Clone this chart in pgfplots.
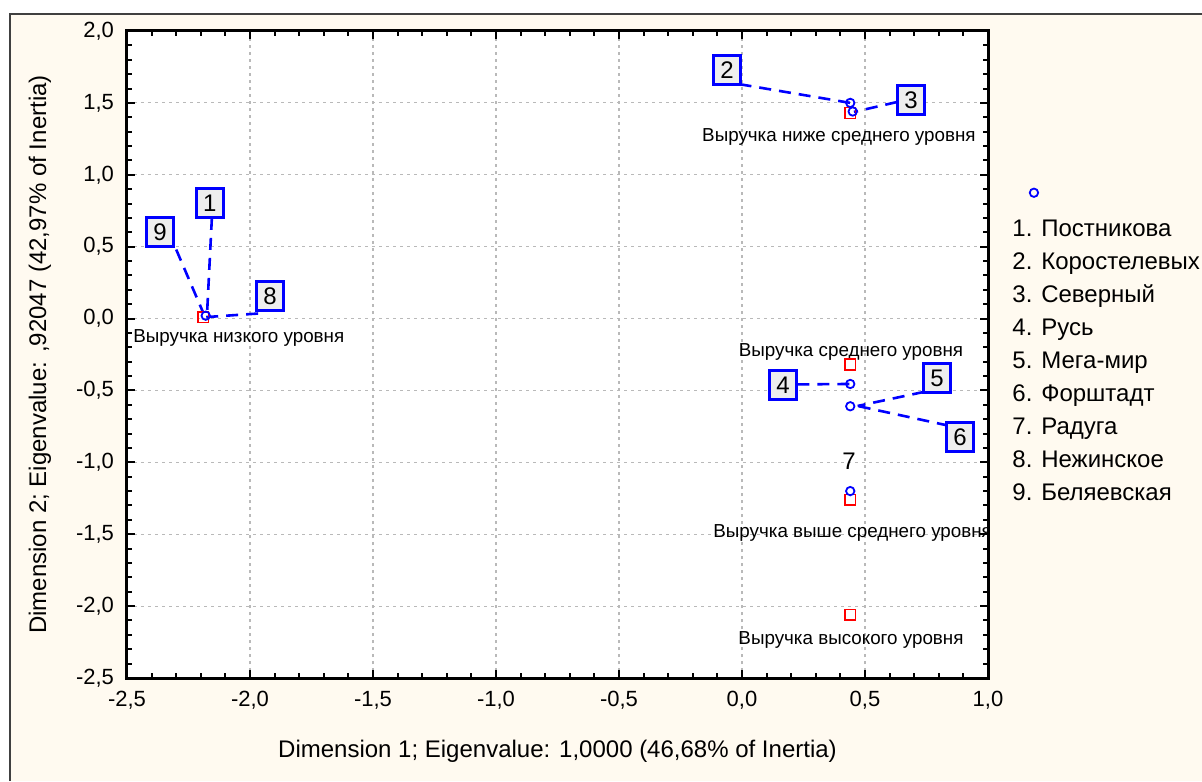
\documentclass[border=0pt]{standalone}
\usepackage{pgfplots}
\pgfplotsset{compat=1.18}
\usepackage{fontspec}
\setmainfont{Liberation Sans}
\definecolor{cream}{RGB}{255,250,240}
\definecolor{gridgray}{RGB}{185,185,185}
\definecolor{boxfill}{RGB}{238,238,238}
\tikzset{
  lk/.style={blue, line width=1.3pt, dash pattern=on 6pt off 4pt},
  bx/.style={draw=blue, fill=boxfill, line width=1.4pt, minimum width=13.5pt, minimum height=14.5pt, inner sep=0pt, font=\fontsize{12}{14}\selectfont},
  lbl/.style={inner sep=0pt, font=\fontsize{9.4}{11}\selectfont},
}
\begin{document}
\begin{tikzpicture}[x=1pt,y=1pt]
\useasboundingbox (0,0) rectangle (601,390.5);
\fill[white] (0,0) rectangle (601,390.5);
\fill[cream] (5,0) rectangle (601,383.5);
\draw[black!75, line width=1pt] (5,0) -- (5,383.5) -- (601,383.5);
\begin{axis}[
  at={(63.5pt,51.5pt)}, anchor=south west,
  scale only axis, width=430.5pt, height=323.5pt,
  xmin=-2.5, xmax=1.0, ymin=-2.5, ymax=2.0,
  axis background/.style={fill=white},
  axis line style={line width=1.5pt},
  xtick={-2.5,-2.0,-1.5,-1.0,-0.5,0,0.5,1.0},
  xticklabels={{-2,5},{-2,0},{-1,5},{-1,0},{-0,5},{0,0},{0,5},{1,0}},
  ytick={-2.5,-2.0,-1.5,-1.0,-0.5,0,0.5,1.0,1.5,2.0},
  yticklabels={{-2,5},{-2,0},{-1,5},{-1,0},{-0,5},{0,0},{0,5},{1,0},{1,5},{2,0}},
  minor tick num=4,
  tick align=inside,
  major tick length=4pt, minor tick length=2.5pt,
  every tick/.style={black, line width=1pt},
  grid=major,
  major grid style={gridgray, line width=0.6pt, dash pattern=on 1.5pt off 2pt},
  ticklabel style={font=\fontsize{11}{13}\selectfont},
  xticklabel style={yshift=-3pt},
  yticklabel style={xshift=-3pt},
  xlabel={Dimension 1; Eigenvalue: 1,0000 (46,68\% of Inertia)},
  ylabel={Dimension 2; Eigenvalue: ,92047 (42,97\% of Inertia)},
  label style={font=\fontsize{12}{14}\selectfont},
  xlabel style={at={(axis description cs:0.5,-0.113)}, anchor=center},
  ylabel style={at={(axis description cs:-0.101,0.5)}, anchor=center},
  legend style={at={(1.058,0.75)}, anchor=center, draw=none, fill=none},
  clip=true,
]
% connector lines (label -> point)
\addplot[lk, forget plot] coordinates {(-2.155,0.70) (-2.175,0.02)};
\addplot[lk, forget plot] coordinates {(-2.30,0.48) (-2.19,0.04)};
\addplot[lk, forget plot] coordinates {(-1.967,0.035) (-2.18,0.01)};
\addplot[lk, forget plot] coordinates {(-0.01,1.63) (0.44,1.50)};
\addplot[lk, forget plot] coordinates {(0.63,1.506) (0.455,1.437)};
\addplot[lk, forget plot] coordinates {(0.225,-0.458) (0.44,-0.455)};
\addplot[lk, forget plot] coordinates {(0.74,-0.51) (0.47,-0.608)};
\addplot[lk, forget plot] coordinates {(0.84,-0.745) (0.47,-0.608)};
% row points (revenue levels)
\addplot[only marks, mark=square, mark size=2.7pt, red, mark options={line width=0.8pt}, forget plot]
  coordinates {(-2.19,0.01) (0.44,1.43) (0.44,-0.32) (0.44,-1.26) (0.44,-2.06)};
% column points (stores)
\addplot[only marks, mark=o, mark size=2.1pt, blue, mark options={line width=0.9pt}]
  coordinates {(-2.18,0.02) (0.44,1.50) (0.45,1.44) (0.44,-0.455) (0.44,-0.61) (0.44,-1.20)};
\addlegendentry{}
% labels
\begin{scope}
\clip (rel axis cs:0,0) rectangle (rel axis cs:1,1);
\node[lbl, anchor=west] at (axis cs:-2.476,-0.135) {Выручка низкого уровня};
\node[lbl] at (axis cs:0.394,1.263) {Выручка ниже среднего уровня};
\node[lbl] at (axis cs:0.443,-0.232) {Выручка среднего уровня};
\node[lbl, anchor=west] at (axis cs:-0.118,-1.49) {Выручка выше среднего уровня};
\node[lbl] at (axis cs:0.443,-2.235) {Выручка высокого уровня};
\end{scope}
\node[bx] at (axis cs:-2.163,0.804) {1};
\node[bx] at (axis cs:-2.366,0.602) {9};
\node[bx] at (axis cs:-1.919,0.157) {8};
\node[bx] at (axis cs:-0.061,1.729) {2};
\node[bx] at (axis cs:0.687,1.52) {3};
\node[bx] at (axis cs:0.167,-0.462) {4};
\node[bx] at (axis cs:0.793,-0.413) {5};
\node[bx] at (axis cs:0.886,-0.823) {6};
\node[inner sep=0pt, font=\fontsize{12}{14}\selectfont] at (axis cs:0.435,-0.99) {7};
\end{axis}
\foreach \t [count=\i] in {Постникова, Коростелевых, Северный, Русь, Мега-мир, Форштадт, Радуга, Нежинское, Беляевская}
  \node[anchor=base west, inner sep=0pt, font=\fontsize{12}{14}\selectfont] at (506, 272-16.5*\i+16.5) {\i. \t};
\end{tikzpicture}
\end{document}
